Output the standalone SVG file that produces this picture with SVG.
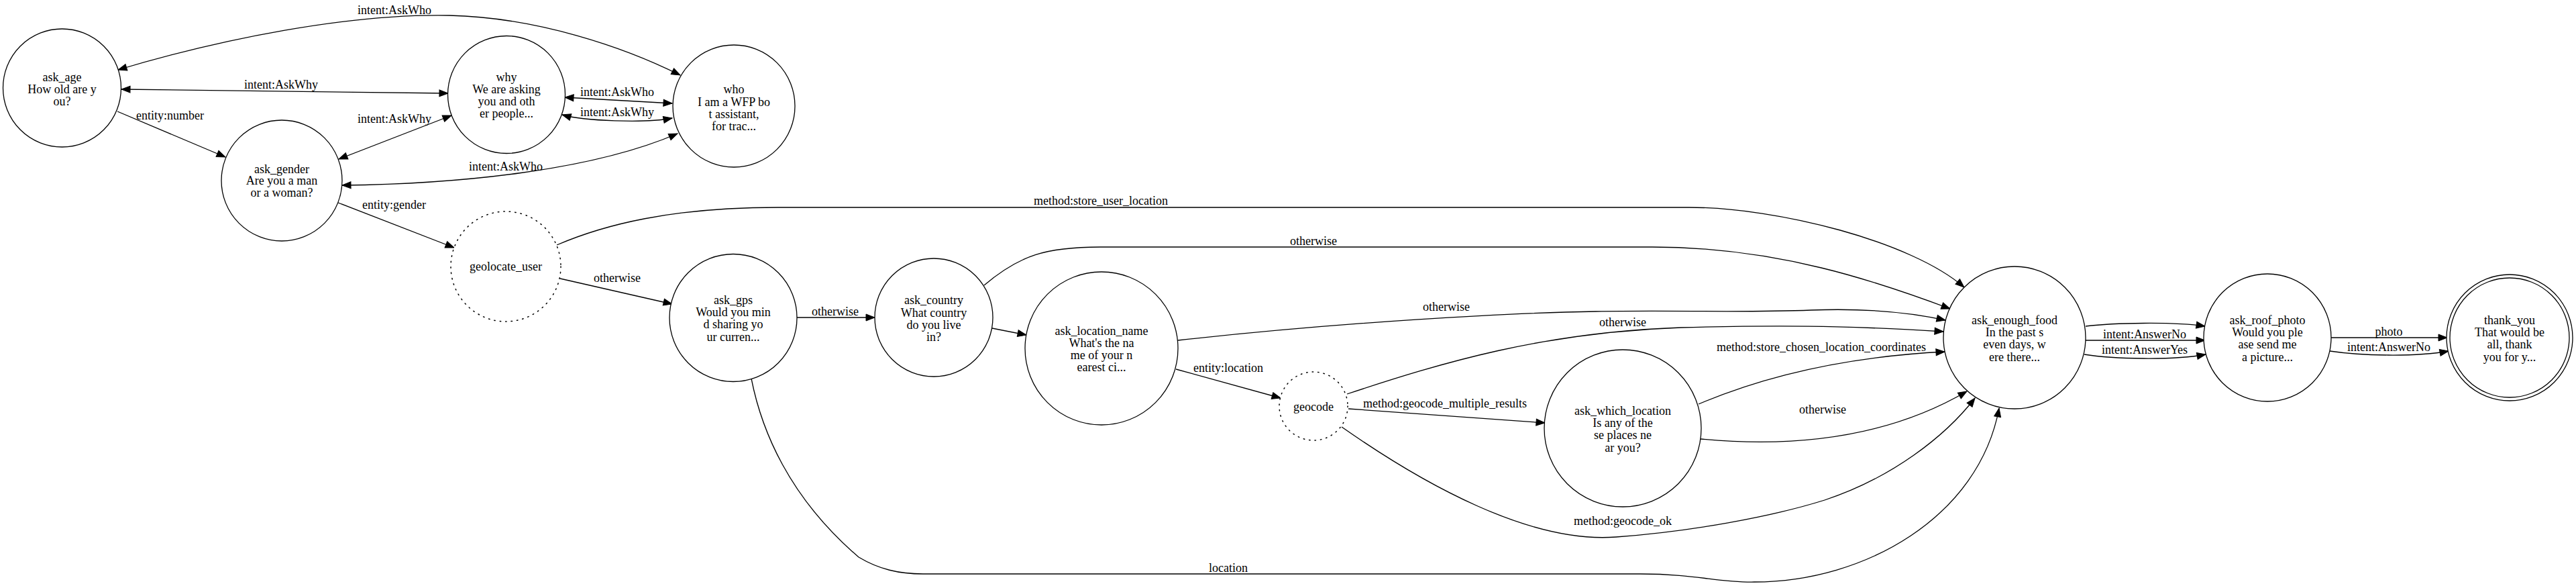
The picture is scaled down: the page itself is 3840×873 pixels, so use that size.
<svg xmlns="http://www.w3.org/2000/svg" width="3840" height="873" viewBox="0 0 3840 873">
<style>
  .n { fill: #ffffff; stroke: #000000; stroke-width: 1.3; }
  .d { fill: #ffffff; stroke: #000000; stroke-width: 1.5; stroke-dasharray: 1.5 7; stroke-linecap: round; }
  .t { font-family: "Liberation Serif", "Times New Roman", serif; font-size: 18px; fill: #000000; text-anchor: middle; }
  .ls { font-family: "Liberation Serif", "Times New Roman", serif; font-size: 18px; fill: #000000; text-anchor: start; }
  .e { fill: none; stroke: #000000; stroke-width: 1.3; }
  .a { marker-end: url(#arr); }
  .b { marker-start: url(#arr); marker-end: url(#arr); }
</style>
<defs>
  <marker id="arr" markerUnits="userSpaceOnUse" markerWidth="16" markerHeight="12" refX="13" refY="5" orient="auto-start-reverse" viewBox="-1 -1 16 12">
    <path d="M0,0 L13,5 L0,10 Z" fill="#000000" stroke="#000000" stroke-width="1"/>
  </marker>
</defs>
<rect x="0" y="0" width="3840" height="873" fill="#ffffff"/>

<g id="connectors">
  <path class="e b" d="M176,104 C330,58 520,20 670,23 C800,26 930,70 1014,112"/>
  <text class="t" x="588" y="21">intent:AskWho</text>

  <path class="e b" d="M181,133 L668,139"/>
  <text class="t" x="419" y="132">intent:AskWhy</text>

  <path class="e a" d="M175,166 L336,234"/>
  <text class="ls" x="203" y="178">entity:number</text>

  <path class="e b" d="M673,172 L505,237"/>
  <text class="t" x="588" y="183">intent:AskWhy</text>

  <path class="e b" d="M842,145 L1002,154"/>
  <text class="t" x="920" y="143">intent:AskWho</text>

  <path class="e b" d="M838,171 C870,180 960,184 1002,176"/>
  <text class="t" x="920" y="173">intent:AskWhy</text>

  <path class="e b" d="M510,276 C680,274 880,255 1010,199"/>
  <text class="t" x="754" y="254">intent:AskWho</text>

  <path class="e a" d="M504,302 L677,369"/>
  <text class="ls" x="540" y="311">entity:gender</text>

  <path class="e a" d="M830,365 C900,335 1000,309 1160,309 L2518,309 C2650,309 2850,360 2928,428"/>
  <text class="t" x="1641" y="305">method:store_user_location</text>

  <path class="e a" d="M835,415 L1002,453"/>
  <text class="t" x="920" y="420">otherwise</text>

  <path class="e a" d="M1187,473 L1304,473"/>
  <text class="t" x="1245" y="470">otherwise</text>

  <path class="e a" d="M1467,425 C1520,380 1560,368 1640,368 L2463,368 C2650,368 2800,420 2907,460"/>
  <text class="t" x="1958" y="365">otherwise</text>

  <path class="e a" d="M1479,489 L1530,499"/>

  <path class="e a" d="M1756,507 C2000,480 2250,466 2379,464 C2500,462 2600,466 2700,462 C2780,459 2850,466 2900,477"/>
  <text class="t" x="2156" y="463">otherwise</text>

  <path class="e a" d="M2008,587 C2150,540 2300,495 2506,488 C2700,483 2800,488 2897,494"/>
  <text class="t" x="2419" y="486">otherwise</text>

  <path class="e a" d="M1753,550 L1909,593"/>
  <text class="ls" x="1779" y="554">entity:location</text>

  <path class="e a" d="M2010,609 L2303,630"/>
  <text class="ls" x="2032" y="607">method:geocode_multiple_results</text>

  <path class="e a" d="M2532,602 C2650,552 2780,530 2899,524"/>
  <text class="ls" x="2559" y="523">method:store_chosen_location_coordinates</text>

  <path class="e a" d="M2535,654 C2650,665 2800,660 2932,583"/>
  <text class="t" x="2717" y="616">otherwise</text>

  <path class="e a" d="M2000,636 C2120,720 2280,810 2409,800 C2520,792 2640,770 2720,745 C2820,712 2900,650 2944,593"/>
  <text class="t" x="2419" y="782">method:geocode_ok</text>

  <path class="e a" d="M1120,564 C1135,640 1175,740 1280,830 C1310,848 1340,855 1376,855 L2445,855 C2530,855 2560,868 2615,867 C2780,867 2950,770 2980,608"/>
  <text class="t" x="1831" y="852">location</text>

  <path class="e a" d="M3109,486 C3150,481 3240,479 3287,486"/>
  <path class="e a" d="M3109,507 L3287,507"/>
  <text class="t" x="3197" y="504">intent:AnswerNo</text>
  <path class="e a" d="M3107,528 C3150,535 3240,537 3288,528"/>
  <text class="t" x="3197" y="527">intent:AnswerYes</text>

  <path class="e a" d="M3475,503 L3648,503"/>
  <text class="t" x="3561" y="500">photo</text>
  <path class="e a" d="M3473,523 C3520,530 3600,532 3650,523"/>
  <text class="t" x="3561" y="523">intent:AnswerNo</text>
</g>

<g id="ask_age">
  <circle class="n" cx="92.5" cy="131" r="88"/>
  <text class="t" x="92.5" y="121">ask_age</text>
  <text class="t" x="92.5" y="139">How old are y</text>
  <text class="t" x="92.5" y="157">ou?</text>
</g>
<g id="why">
  <circle class="n" cx="755" cy="141" r="87.5"/>
  <text class="t" x="755" y="121">why</text>
  <text class="t" x="755" y="139">We are asking</text>
  <text class="t" x="755" y="157">you and oth</text>
  <text class="t" x="755" y="175">er people...</text>
</g>
<g id="who">
  <circle class="n" cx="1094" cy="158" r="91"/>
  <text class="t" x="1094" y="139">who</text>
  <text class="t" x="1094" y="158">I am a WFP bo</text>
  <text class="t" x="1094" y="176">t assistant,</text>
  <text class="t" x="1094" y="194">for trac...</text>
</g>
<g id="ask_gender">
  <circle class="n" cx="420" cy="269" r="90"/>
  <text class="t" x="420" y="258">ask_gender</text>
  <text class="t" x="420" y="275">Are you a man</text>
  <text class="t" x="420" y="293">or a woman?</text>
</g>
<g id="geolocate_user">
  <circle class="d" cx="754" cy="397" r="82"/>
  <text class="t" x="754" y="403">geolocate_user</text>
</g>
<g id="ask_gps">
  <circle class="n" cx="1093" cy="473.5" r="95"/>
  <text class="t" x="1093" y="453">ask_gps</text>
  <text class="t" x="1093" y="471">Would you min</text>
  <text class="t" x="1093" y="489">d sharing yo</text>
  <text class="t" x="1093" y="508">ur curren...</text>
</g>
<g id="ask_country">
  <circle class="n" cx="1392" cy="473" r="88"/>
  <text class="t" x="1392" y="453">ask_country</text>
  <text class="t" x="1392" y="472">What country</text>
  <text class="t" x="1392" y="490">do you live</text>
  <text class="t" x="1392" y="508">in?</text>
</g>
<g id="ask_location_name">
  <circle class="n" cx="1642" cy="519" r="114"/>
  <text class="t" x="1642" y="499">ask_location_name</text>
  <text class="t" x="1642" y="517">What's the na</text>
  <text class="t" x="1642" y="535">me of your n</text>
  <text class="t" x="1642" y="553">earest ci...</text>
</g>
<g id="geocode">
  <circle class="d" cx="1958" cy="605" r="51"/>
  <text class="t" x="1958" y="612">geocode</text>
</g>
<g id="ask_which_location">
  <circle class="n" cx="2419" cy="638" r="117"/>
  <text class="t" x="2419" y="618">ask_which_location</text>
  <text class="t" x="2419" y="636">Is any of the</text>
  <text class="t" x="2419" y="654">se places ne</text>
  <text class="t" x="2419" y="673">ar you?</text>
</g>
<g id="ask_enough_food">
  <circle class="n" cx="3003" cy="503" r="106"/>
  <text class="t" x="3003" y="483">ask_enough_food</text>
  <text class="t" x="3003" y="501">In the past s</text>
  <text class="t" x="3003" y="519">even days, w</text>
  <text class="t" x="3003" y="538">ere there...</text>
</g>
<g id="ask_roof_photo">
  <circle class="n" cx="3380" cy="503" r="95"/>
  <text class="t" x="3380" y="483">ask_roof_photo</text>
  <text class="t" x="3380" y="501">Would you ple</text>
  <text class="t" x="3380" y="519">ase send me</text>
  <text class="t" x="3380" y="538">a picture...</text>
</g>
<g id="thank_you">
  <circle class="n" cx="3741" cy="503" r="94"/>
  <circle class="n" cx="3741" cy="503" r="89" fill="none"/>
  <text class="t" x="3741" y="483">thank_you</text>
  <text class="t" x="3741" y="501">That would be</text>
  <text class="t" x="3741" y="519">all, thank</text>
  <text class="t" x="3741" y="538">you for y...</text>
</g>
</svg>
